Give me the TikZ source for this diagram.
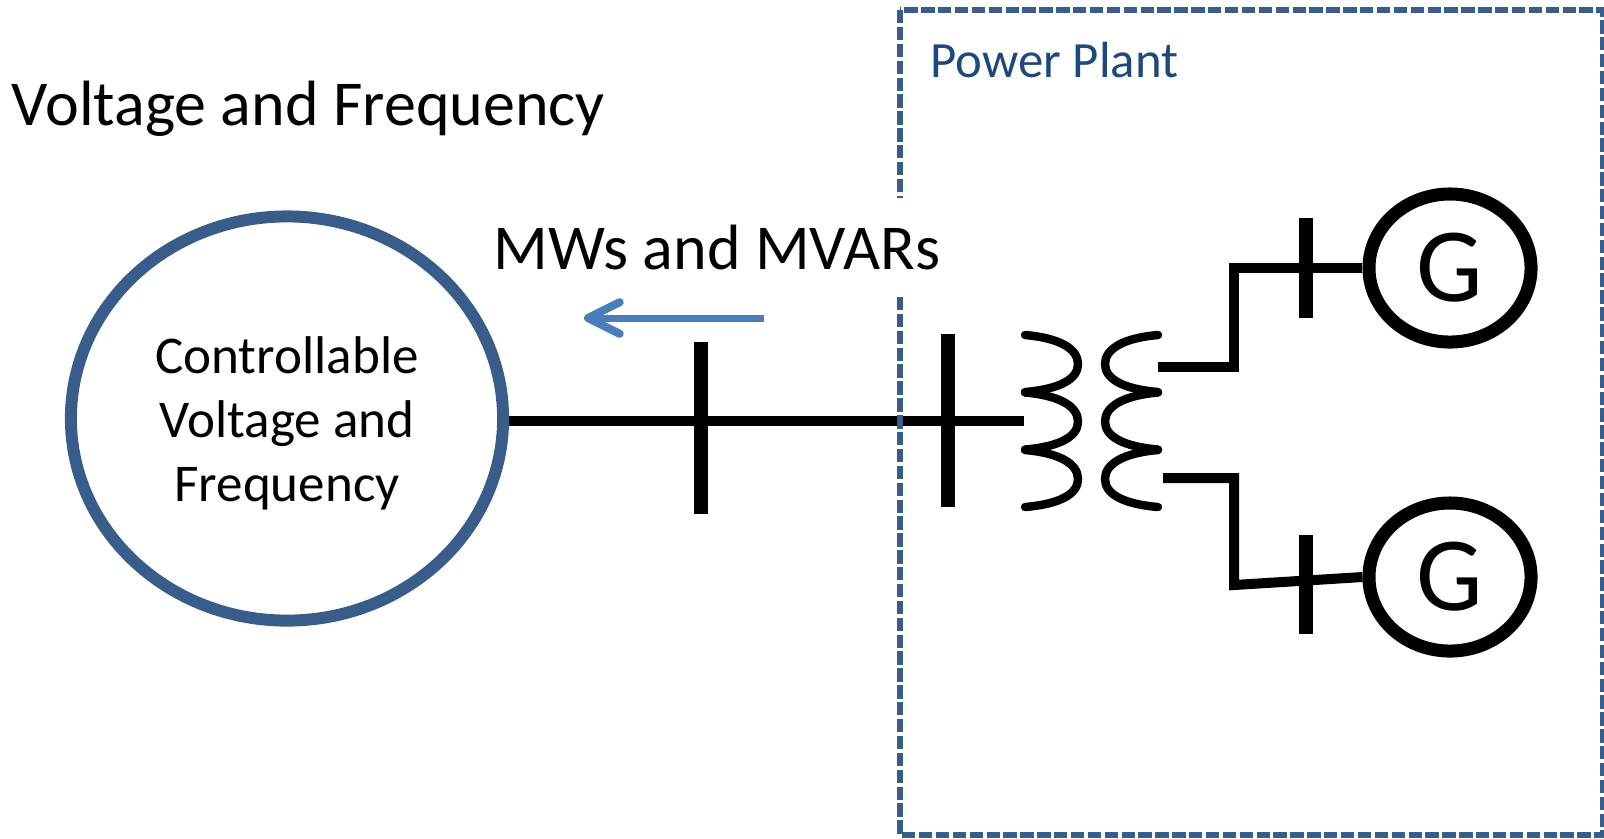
\documentclass[tikz,border=0pt]{standalone}
\usepackage{fontspec}
\setmainfont{Carlito}
\usetikzlibrary{arrows.meta,shapes.geometric}
\definecolor{plantblue}{HTML}{385D8A}
\definecolor{plantlabel}{HTML}{1F497D}
\definecolor{flowblue}{HTML}{4A7EBB}
\tikzset{
	wire/.style = {line width = 2.85pt},
	busbar/.style = {line width = 3.8pt},
	coilline/.style = {line width = 2.4pt, line cap = round, line join = round},
	gen/.style = {draw, ellipse, line width = 3.7pt, minimum width = 162\pxu, minimum height = 148\pxu, inner sep = 0pt, font = \fontsize{30}{30}\selectfont},
	source/.style = {draw = plantblue, ellipse, line width = 3.4pt, minimum width = 432\pxu, minimum height = 404\pxu, inner sep = 0pt},
	sourcetext/.style = {align = center, inner sep = 0pt, font = \fontsize{15.1}{18.2}\selectfont},
	plantbox/.style = {draw = plantblue, line width = 1.55pt, dash pattern = on 3.8pt off 1pt},
	flow/.style = {draw = flowblue, line width = 2pt, -{Straight Barb[length = 9pt, width = 9pt, line width = 2.3pt, round]}},
}
\newcommand{\pxu}{*.2845pt}
\newcommand{\coil}[2]{
	%one winding, three loops
	\foreach \y in {335,392.5,450}
	\draw[coilline] (#1,\y) .. controls (#1+#2*35,\y+3) and (#1+#2*53,\y+14) .. (#1+#2*53,\y+29) .. controls (#1+#2*53,\y+44) and (#1+#2*35,\y+54) .. (#1,\y+57);
}

\begin{document}
\begin{tikzpicture}[x=.01cm,y=-.01cm]
	\useasboundingbox (0,0) rectangle (1604,838);
	\node[source] (grid) at (287,418.5) {};
	\node[sourcetext] (gridlabel) at (287,423) {Controllable\\Voltage and\\Frequency};
	\node[gen] (genA) at (1450,268) {G};
	\node[gen] (genB) at (1450,577) {G};
	\coordinate (primary) at (1024,421);
	\coordinate (busAtop) at (701,342);
	\coordinate (busAbot) at (701,514);
	\coordinate (busBtop) at (948,334);
	\coordinate (busBbot) at (948,507);
	\coordinate (busCtop) at (1306,218);
	\coordinate (busCbot) at (1306,318);
	\coordinate (busDtop) at (1306,535);
	\coordinate (busDbot) at (1306,634);
	\coordinate (flowstart) at (764,318);
	\coordinate (flowend) at (584,318);

	\draw[wire] (grid.east |- primary) -- (primary);
	\draw[busbar] (busAtop) -- (busAbot);
	\draw[busbar] (busBtop) -- (busBbot);
	\draw[busbar] (busCtop) -- (busCbot);
	\draw[busbar] (busDtop) -- (busDbot);
	\coil{1025}{1}
	\coil{1158}{-1}
	\draw[wire] (1158,367) -- (1234,367) -- (1234,268) -- (genA.west);
	\draw[wire] (1163,478) -- (1234,478) -- (1234,585) -- (genB.west);
	\draw[flow] (flowstart) -- (flowend);

	\draw[plantbox] (900,10) rectangle (1603,835);
	\node[anchor = base west, inner sep = 0pt, text = plantlabel, font = \fontsize{14.45}{16}\selectfont] (plant) at (930,77.7) {Power Plant};
	\node[anchor = base west, inner sep = 0pt, font = \fontsize{18.2}{20}\selectfont] (voltage) at (11,125) {Voltage and Frequency};
	\node[fill = white, minimum width = 450\pxu, minimum height = 99\pxu, inner sep = 0pt, font = \fontsize{18.2}{20}\selectfont] (mws) at (717,247.5) {MWs and MVARs};
\end{tikzpicture}
\end{document}
